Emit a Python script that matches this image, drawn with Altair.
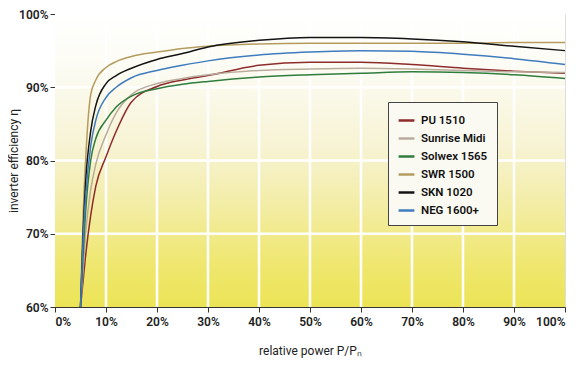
import altair as alt
import pandas as pd

x_vals = [5, 5.5, 6, 7, 8, 10, 12, 15, 20, 25, 30, 40, 50, 60, 70, 80, 90, 100]

series = ["PU 1510", "Sunrise Midi", "Solwex 1565", "SWR 1500", "SKN 1020", "NEG 1600+"]
colors = ["#8e2b2b", "#b9ab9c", "#2f7d3d", "#b49c5e", "#141414", "#3f7cbf"]

pu_1510      = [60, 63.5, 67, 72.5, 76.5, 80.5, 84.0, 88.0, 90.1, 91.0, 91.6, 93.0, 93.4, 93.4, 93.1, 92.6, 92.2, 91.9]
sunrise_midi = [60, 65.0, 70, 76.0, 79.5, 83.5, 86.5, 89.0, 90.5, 91.2, 91.7, 92.3, 92.5, 92.6, 92.5, 92.3, 92.1, 92.0]
solwex_1565  = [60, 67.0, 73, 80.0, 83.0, 85.5, 87.3, 88.8, 89.8, 90.4, 90.8, 91.4, 91.7, 91.9, 92.1, 92.0, 91.7, 91.2]
swr_1500     = [60, 72.0, 80, 89.0, 91.0, 92.7, 93.5, 94.2, 94.8, 95.3, 95.6, 95.9, 96.0, 96.0, 96.0, 96.0, 96.1, 96.1]
skn_1020     = [60, 70.0, 77, 84.0, 87.5, 90.5, 91.6, 92.6, 93.8, 94.6, 95.5, 96.4, 96.8, 96.8, 96.6, 96.2, 95.6, 95.0]
neg_1600     = [60, 69.0, 75, 82.0, 85.5, 88.6, 90.0, 91.3, 92.3, 93.0, 93.6, 94.4, 94.8, 95.0, 94.9, 94.5, 93.9, 93.1]

x_ticks = [0, 10, 20, 30, 40, 50, 60, 70, 80, 90, 100]
y_ticks = [60, 70, 80, 90, 100]

all_vals = [pu_1510, sunrise_midi, solwex_1565, swr_1500, skn_1020, neg_1600]

rows = []
for name, vals in zip(series, all_vals):
    for xv, yv in zip(x_vals, vals):
        rows.append({"series": name, "power": xv, "eff": yv})
df = pd.DataFrame(rows)

font = "Liberation Sans Narrow, Arial Narrow, Roboto, sans-serif"

xs = alt.Scale(domain=[0, 100], nice=False)
ys = alt.Scale(domain=[60, 100], nice=False)

bg_df = pd.DataFrame({"x0": [x_ticks[0]], "x1": [x_ticks[-1]], "y0": [y_ticks[0]], "y1": [y_ticks[-1]]})
bg = alt.Chart(bg_df).mark_rect(
    color=alt.Gradient(gradient="linear", x1=0, x2=0, y1=0, y2=1,
                       stops=[alt.GradientStop(offset=0, color="#ffffff"),
                              alt.GradientStop(offset=0.2, color="#fcfbf2"),
                              alt.GradientStop(offset=0.45, color="#f7f3d4"),
                              alt.GradientStop(offset=0.65, color="#f3eda6"),
                              alt.GradientStop(offset=0.85, color="#efe770"),
                              alt.GradientStop(offset=1, color="#ece455")])
).encode(
    x=alt.X("x0:Q", scale=xs, axis=alt.Axis(values=x_ticks, labelExpr="datum.value + '%'",
                          title="relative power P/Pₙ", titlePadding=18, grid=False,
                          domainColor="#333", tickColor="#333", tickSize=5,
                          labelFontSize=12, labelColor="#222", titleFontSize=12,
                          labelFontWeight=600,
                          titleFontWeight="normal", titleColor="#222", labelPadding=4)),
    x2="x1:Q",
    y=alt.Y("y0:Q", scale=ys, axis=alt.Axis(values=y_ticks, labelExpr="datum.value + '%'",
                          title="inverter efficiency η", titleX=-35, grid=False,
                          domainColor="#333", tickColor="#333", tickSize=5,
                          labelFontSize=12, labelColor="#222", titleFontSize=12,
                          labelFontWeight=600, labelPadding=2,
                          titleFontWeight="normal", titleColor="#222")),
    y2="y1:Q",
)

vgrid = alt.Chart(pd.DataFrame({"gx": x_ticks[1:-1]})).mark_rule(color="white", strokeWidth=2.5).encode(
    x=alt.X("gx:Q", scale=xs))
hgrid = alt.Chart(pd.DataFrame({"gy": y_ticks[1:-1]})).mark_rule(color="white", strokeWidth=2.5).encode(
    y=alt.Y("gy:Q", scale=ys))

lines = alt.Chart(df).mark_line(strokeWidth=1.5, interpolate="monotone").encode(
    x=alt.X("power:Q", scale=xs),
    y=alt.Y("eff:Q", scale=ys),
    color=alt.Color("series:N", scale=alt.Scale(domain=series, range=colors), sort=series,
                    legend=alt.Legend(title=None, orient="none", legendX=333, legendY=88,
                                      symbolType="stroke", symbolStrokeWidth=2.5, symbolSize=250,
                                      labelFontSize=11.5, labelFont=font, labelColor="#111",
                                      labelFontWeight=600, labelOffset=5,
                                      strokeColor="#444", fillColor="#fbfaf2", padding=9,
                                      rowPadding=3)),
)

chart = alt.layer(bg, vgrid, hgrid, lines).properties(
    width=510, height=293,
    autosize=alt.AutoSizeParams(type="none"),
    padding={"left": 47, "top": 6, "right": 10, "bottom": 51},
).configure_view(
    stroke="#444", strokeWidth=1.2,
).configure(font=font, background="white")

chart.save("out.html", embed_options={"renderer": "svg", "actions": False})
